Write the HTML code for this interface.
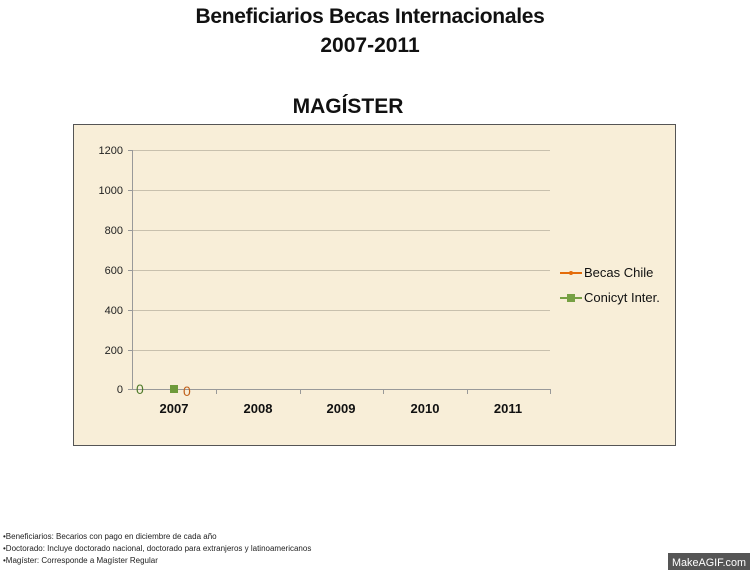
<!DOCTYPE html>
<html><head><meta charset="utf-8"><style>
body{margin:0;width:750px;height:570px;background:#fff;overflow:hidden;position:relative;font-family:"Liberation Sans",sans-serif}
.t{position:absolute;left:0;width:740px;text-align:center;font-weight:bold;color:#111}
</style></head><body>
<div class="t" style="top:5px;font-size:21px;letter-spacing:-0.3px">Beneficiarios Becas Internacionales</div>
<div class="t" style="top:34px;font-size:21px">2007-2011</div>
<div class="t" style="top:95px;font-size:21px;width:696px">MAGÍSTER</div>
<svg style="position:absolute;left:0;top:0" width="750" height="570">
<rect x="73.5" y="124.5" width="602" height="321" fill="#f8eed8" stroke="#555"/>
<g stroke="#c8c0ad" stroke-width="1">
<line x1="132" x2="550" y1="150.5" y2="150.5"/><line x1="132" x2="550" y1="190.5" y2="190.5"/>
<line x1="132" x2="550" y1="230.5" y2="230.5"/><line x1="132" x2="550" y1="270.5" y2="270.5"/>
<line x1="132" x2="550" y1="310.5" y2="310.5"/><line x1="132" x2="550" y1="350.5" y2="350.5"/>
</g>
<g stroke="#999"><line x1="132.5" x2="132.5" y1="150" y2="390"/><line x1="128" x2="550" y1="389.5" y2="389.5"/>
<line x1="216.5" x2="216.5" y1="389" y2="394"/><line x1="300.5" x2="300.5" y1="389" y2="394"/><line x1="383.5" x2="383.5" y1="389" y2="394"/><line x1="467.5" x2="467.5" y1="389" y2="394"/><line x1="550.5" x2="550.5" y1="389" y2="394"/>
<line x1="128" x2="132" y1="150.5" y2="150.5"/><line x1="128" x2="132" y1="190.5" y2="190.5"/><line x1="128" x2="132" y1="230.5" y2="230.5"/><line x1="128" x2="132" y1="270.5" y2="270.5"/><line x1="128" x2="132" y1="310.5" y2="310.5"/><line x1="128" x2="132" y1="350.5" y2="350.5"/></g>
<g font-size="11" fill="#222" text-anchor="end" font-family="Liberation Sans,sans-serif">
<text x="123" y="154">1200</text><text x="123" y="194">1000</text><text x="123" y="234">800</text><text x="123" y="274">600</text><text x="123" y="314">400</text><text x="123" y="354">200</text><text x="123" y="393">0</text></g>
<g font-size="13" font-weight="bold" fill="#111" text-anchor="middle">
<text x="174" y="413">2007</text><text x="258" y="413">2008</text><text x="341" y="413">2009</text><text x="425" y="413">2010</text><text x="508" y="413">2011</text></g>
<rect x="170" y="385" width="8" height="8" fill="#6e9a3a"/>
<text x="136" y="394" font-size="14" fill="#4e7a2a">0</text>
<text x="183" y="396" font-size="14" fill="#c0601a">0</text>
<line x1="560" x2="582" y1="273" y2="273" stroke="#e46c0a" stroke-width="2"/><circle cx="571" cy="273" r="2" fill="#e46c0a"/>
<line x1="560" x2="582" y1="298" y2="298" stroke="#77a043" stroke-width="2"/><rect x="567" y="294" width="8" height="8" fill="#77a043"/>
<text x="584" y="277" font-size="13" fill="#111">Becas Chile</text>
<text x="584" y="302" font-size="13" fill="#111">Conicyt Inter.</text>
<g font-size="8" fill="#222"><text x="3" y="539">•Beneficiarios: Becarios con pago en diciembre de cada año</text>
<text x="3" y="551">•Doctorado: Incluye doctorado nacional, doctorado para extranjeros y latinoamericanos</text>
<text x="3" y="563">•Magíster: Corresponde a Magíster Regular</text></g>
<rect x="668" y="553" width="82" height="17" fill="#555"/>
<text x="672" y="566" font-size="11" fill="#fff" textLength="74" lengthAdjust="spacingAndGlyphs">MakeAGIF.com</text>
</svg>
</body></html>
